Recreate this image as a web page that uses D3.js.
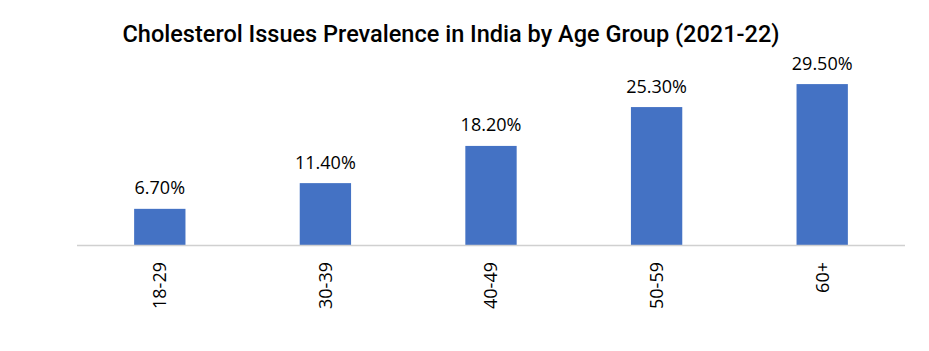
<!DOCTYPE html>
<html>
<head>
<meta charset="utf-8">
<script src="https://cdn.jsdelivr.net/npm/d3@7"></script>
<style>
html,body{margin:0;padding:0;background:#fff;}
svg{display:block;}
</style>
</head>
<body>
<script>
const categories = ["18-29", "30-39", "40-49", "50-59", "60+"];
const values = [6.7, 11.4, 18.2, 25.3, 29.5];
const valueLabels = ["6.70%", "11.40%", "18.20%", "25.30%", "29.50%"];
const title = "Cholesterol Issues Prevalence in India by Age Group (2021-22)";

const W = 929, H = 351;
const svg = d3.select("body").append("svg").attr("width", W).attr("height", H);

const x = d3.scaleBand().domain(categories).range([77, 905]).paddingInner(0.69).paddingOuter(0.345);
const y = d3.scaleLinear().domain([0, 35]).range([245.5, 54]);

svg.append("text")
  .attr("x", 451).attr("y", 41.5)
  .attr("text-anchor", "middle")
  .attr("font-family", "Roboto")
  .attr("font-weight", 500)
  .attr("font-size", 23)
  .attr("textLength", 657)
  .attr("lengthAdjust", "spacingAndGlyphs")
  .attr("fill", "#000")
  .text(title);

svg.selectAll("rect.bar").data(values).enter().append("rect")
  .attr("class", "bar")
  .attr("x", (d, i) => x(categories[i]))
  .attr("width", x.bandwidth())
  .attr("y", d => y(d))
  .attr("height", d => y(0) - y(d))
  .attr("fill", "#4472C4");

svg.selectAll("text.val").data(values).enter().append("text")
  .attr("class", "val")
  .attr("x", (d, i) => x(categories[i]) + x.bandwidth() / 2)
  .attr("y", d => y(d) - 14.5)
  .attr("text-anchor", "middle")
  .attr("font-family", "Open Sans")
  .attr("font-size", 18)
  .attr("fill", "#000")
  .text((d, i) => valueLabels[i]);

const xAxis = d3.axisBottom(x).tickSize(0).tickPadding(0);
const gx = svg.append("g").attr("transform", `translate(0,${y(0)})`).call(xAxis);
gx.select(".domain").attr("stroke", "#d0d0d0").attr("stroke-width", 1.3).attr("d", "M77,0H905");
gx.selectAll(".tick text")
  .attr("transform", "rotate(-90)")
  .attr("x", -16.5)
  .attr("y", 0)
  .attr("dy", "0.35em")
  .attr("text-anchor", "end")
  .attr("font-family", "Open Sans")
  .attr("font-size", 18)
  .attr("fill", "#000");
</script>
</body>
</html>
